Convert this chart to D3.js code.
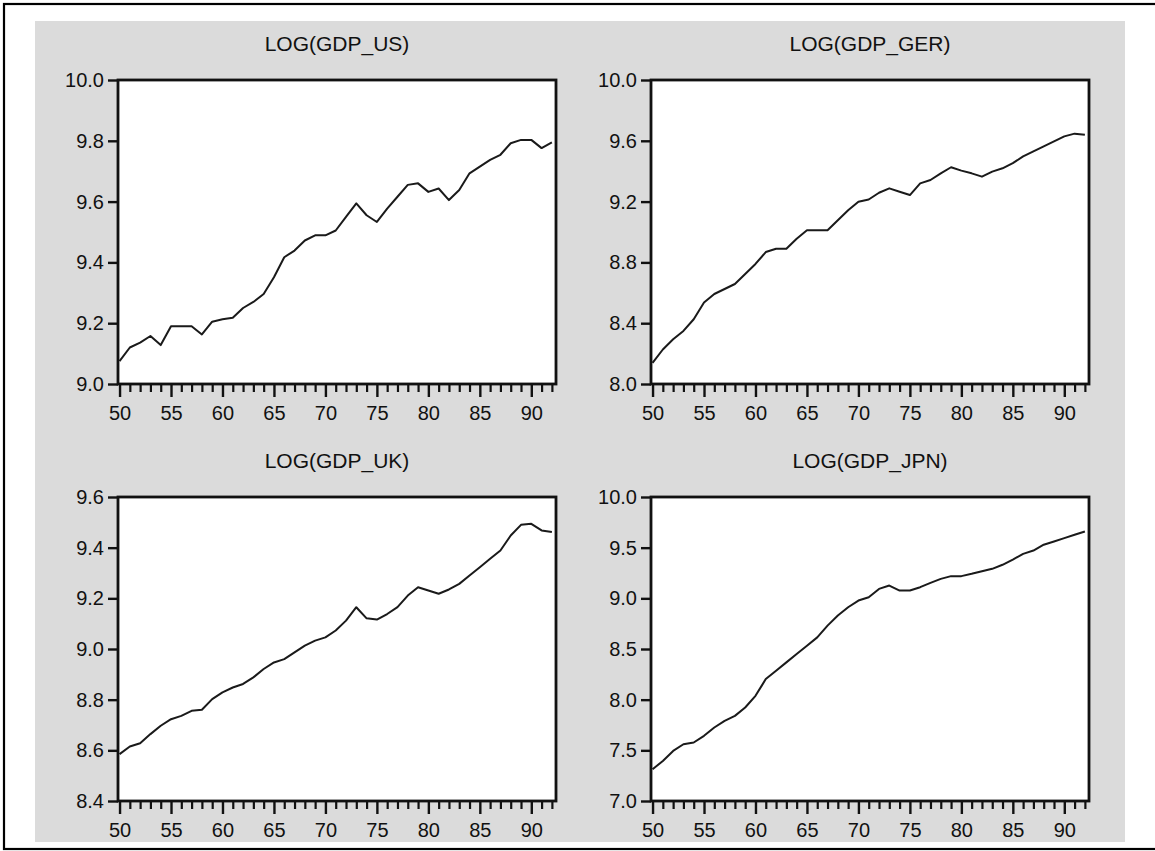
<!DOCTYPE html>
<html>
<head>
<meta charset="utf-8">
<script src="https://cdn.jsdelivr.net/npm/d3@7"></script>
<style>
  body { margin: 0; background: #fff; }
  svg { display: block; font-family: 'Liberation Sans', Arial, sans-serif; }
</style>
</head>
<body>
<svg id="chart"></svg>
<script>
// years 1950..1992, shown as two-digit labels
const years = d3.range(50, 93);
const yearLabels = [50, 55, 60, 65, 70, 75, 80, 85, 90];

const gdpUS = [9.075, 9.12, 9.136, 9.158, 9.128, 9.19, 9.19, 9.19, 9.163, 9.205,
  9.213, 9.218, 9.25, 9.27, 9.296, 9.351, 9.417, 9.439, 9.472, 9.489,
  9.489, 9.505, 9.55, 9.594, 9.555, 9.533, 9.577, 9.616, 9.655, 9.66,
  9.632, 9.643, 9.605, 9.638, 9.693, 9.715, 9.737, 9.754, 9.792, 9.803,
  9.803, 9.776, 9.795];
const gdpGER = [8.139, 8.227, 8.294, 8.349, 8.426, 8.536, 8.592, 8.625, 8.658, 8.724,
  8.79, 8.868, 8.89, 8.89, 8.956, 9.011, 9.011, 9.011, 9.077, 9.143,
  9.199, 9.214, 9.258, 9.287, 9.265, 9.243, 9.32, 9.342, 9.386, 9.426,
  9.404, 9.386, 9.364, 9.397, 9.419, 9.453, 9.497, 9.53, 9.563, 9.596,
  9.629, 9.647, 9.64];
const gdpUK = [8.585, 8.615, 8.628, 8.664, 8.697, 8.723, 8.736, 8.756, 8.76, 8.802,
  8.829, 8.848, 8.862, 8.888, 8.921, 8.947, 8.96, 8.987, 9.013, 9.033,
  9.046, 9.073, 9.112, 9.165, 9.121, 9.116, 9.138, 9.165, 9.211, 9.244,
  9.231, 9.218, 9.235, 9.257, 9.29, 9.323, 9.356, 9.389, 9.448, 9.49,
  9.494, 9.468, 9.462];
const gdpJPN = [7.313, 7.395, 7.494, 7.56, 7.577, 7.643, 7.725, 7.791, 7.84, 7.923,
  8.038, 8.203, 8.286, 8.368, 8.45, 8.533, 8.615, 8.731, 8.83, 8.912,
  8.978, 9.011, 9.093, 9.126, 9.077, 9.077, 9.11, 9.153, 9.192, 9.219,
  9.219, 9.242, 9.268, 9.291, 9.331, 9.383, 9.439, 9.472, 9.529, 9.561,
  9.594, 9.627, 9.66];

const titles = ['LOG(GDP_US)', 'LOG(GDP_GER)', 'LOG(GDP_UK)', 'LOG(GDP_JPN)'];
const series = [gdpUS, gdpGER, gdpUK, gdpJPN];
const yTicksUS = [9.0, 9.2, 9.4, 9.6, 9.8, 10.0];
const yTicksGER = [8.0, 8.4, 8.8, 9.2, 9.6, 10.0];
const yTicksUK = [8.4, 8.6, 8.8, 9.0, 9.2, 9.4, 9.6];
const yTicksJPN = [7.0, 7.5, 8.0, 8.5, 9.0, 9.5, 10.0];
const yTicks = [yTicksUS, yTicksGER, yTicksUK, yTicksJPN];

const W = 1155;
const H = 851;
const plotW = 438;
const plotH = 304;
const colX = [118, 651];
const rowY = [80, 497];
const fontStack = "'Liberation Sans', Arial, sans-serif";

const svg = d3.select('#chart')
  .attr('width', W)
  .attr('height', H);

// outer frame (right edge falls outside the picture)
svg.append('rect')
  .attr('x', 4).attr('y', 4)
  .attr('width', W + 10).attr('height', 845)
  .attr('fill', '#fff')
  .attr('stroke', '#000')
  .attr('stroke-width', 2.2);

svg.append('rect')
  .attr('x', 35).attr('y', 21)
  .attr('width', 1090).attr('height', 821)
  .attr('fill', '#dbdbdb');

series.forEach((values, i) => {
  const left = colX[i % 2];
  const top = rowY[Math.floor(i / 2)];
  const ticks = yTicks[i];

  const x = d3.scaleLinear().domain([49.85, 92.4]).range([0, plotW]);
  const y = d3.scaleLinear().domain(d3.extent(ticks)).range([plotH, 0]);

  const g = svg.append('g')
    .attr('transform', `translate(${left},${top})`);

  g.append('rect')
    .attr('width', plotW)
    .attr('height', plotH)
    .attr('fill', '#fff');

  g.append('text')
    .attr('x', plotW / 2)
    .attr('y', -29)
    .attr('text-anchor', 'middle')
    .attr('font-size', 21)
    .attr('fill', '#111')
    .text(titles[i]);

  const line = d3.line()
    .x((d, j) => x(years[j]))
    .y(d => y(d));

  g.append('path')
    .datum(values)
    .attr('fill', 'none')
    .attr('stroke', '#1a1a1a')
    .attr('stroke-width', 2)
    .attr('stroke-linejoin', 'round')
    .attr('d', line);

  // minor year ticks
  g.append('g')
    .attr('transform', `translate(0,${plotH})`)
    .call(d3.axisBottom(x).tickValues(years.filter(d => d % 5 !== 0)).tickSize(8).tickFormat(''))
    .call(a => a.select('.domain').remove())
    .call(a => a.selectAll('line').attr('stroke', '#111').attr('stroke-width', 2.2));

  // major year ticks + labels
  g.append('g')
    .attr('transform', `translate(0,${plotH})`)
    .call(d3.axisBottom(x).tickValues(yearLabels).tickSize(13).tickPadding(9))
    .call(a => a.select('.domain').remove())
    .call(a => a.selectAll('line').attr('stroke', '#111').attr('stroke-width', 2.4))
    .call(a => a.selectAll('text').attr('font-size', 20).attr('fill', '#111')
      .attr('font-family', fontStack));

  g.append('g')
    .call(d3.axisLeft(y).tickValues(ticks).tickSize(10).tickPadding(4).tickFormat(d3.format('.1f')))
    .call(a => a.select('.domain').remove())
    .call(a => a.selectAll('line').attr('stroke', '#111').attr('stroke-width', 2.4))
    .call(a => a.selectAll('text').attr('font-size', 20).attr('fill', '#111')
      .attr('font-family', fontStack));

  g.append('rect')
    .attr('width', plotW)
    .attr('height', plotH)
    .attr('fill', 'none')
    .attr('stroke', '#111')
    .attr('stroke-width', 2.8);
});
</script>
</body>
</html>
